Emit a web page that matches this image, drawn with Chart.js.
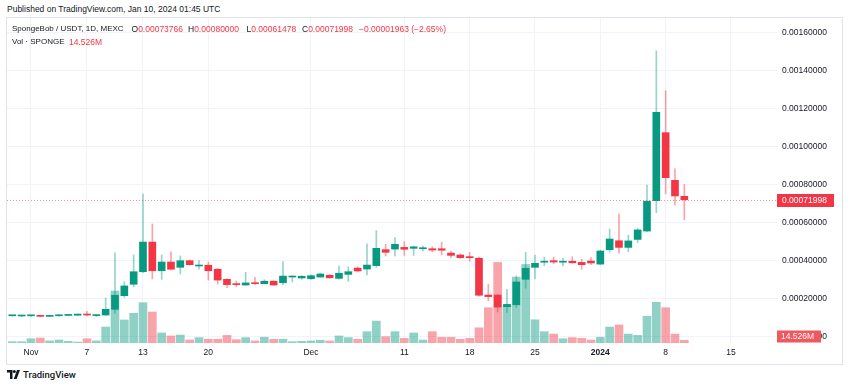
<!DOCTYPE html>
<html><head><meta charset="utf-8">
<script src="https://cdn.jsdelivr.net/npm/chart.js@4.4.1/dist/chart.umd.min.js"></script>
<style>
html,body{margin:0;padding:0;background:#fff;width:850px;height:386px;overflow:hidden;font-family:"Liberation Sans",Arial,sans-serif;color:#131722;}
#pub{position:absolute;left:7px;top:3px;font-size:8.5px;line-height:12px;white-space:nowrap;}
#frame{position:absolute;left:6px;top:17px;width:837px;height:348px;border:1px solid #e0e3eb;box-sizing:border-box;}
#wrap{position:absolute;left:7px;top:18px;width:835px;height:346px;}
.lg{position:absolute;font-size:8.5px;line-height:12px;white-space:nowrap;}
.nm{font-size:8px;}
.r{color:#f23645;}
#logo{position:absolute;left:7px;top:368px;height:12px;display:flex;align-items:center;}
#logo span{font-family:Roboto,"Liberation Sans",sans-serif;font-weight:500;font-size:9.5px;color:#131722;margin-left:3px;}
</style>
</head><body>
<div id="pub">Published on TradingView.com, Jan 10, 2024 01:45 UTC</div>
<div id="frame"></div>
<div id="wrap"><canvas id="c" width="835" height="346"></canvas></div>
<div class="lg nm" style="left:12px;top:23px">SpongeBob / USDT, 1D, MEXC</div>
<div class="lg" style="left:131.5px;top:23px">O<span class="r" id="vO"></span></div>
<div class="lg" style="left:188px;top:23px">H<span class="r" id="vH"></span></div>
<div class="lg" style="left:246.5px;top:23px">L<span class="r" id="vL"></span></div>
<div class="lg" style="left:302px;top:23px">C<span class="r" id="vC"></span></div>
<div class="lg r" style="left:359px;top:23px" id="vChg"></div>
<div class="lg nm" style="left:12px;top:35.5px">Vol · SPONGE</div>
<div class="lg r" style="left:69px;top:35.5px" id="vVol"></div>
<div id="logo"><svg width="13" height="9" viewBox="0 0 13 9"><path d="M0 0h5.5v9H3V2.4H0z" fill="#131722"/><circle cx="7.3" cy="1.6" r="1.5" fill="#131722"/><path d="M10 0h3L9.6 9H6.8z" fill="#131722"/></svg><span>TradingView</span></div>
<script>
const dates = [
 "2023-10-30","2023-10-31",
 "2023-11-01","2023-11-02","2023-11-03","2023-11-04","2023-11-05","2023-11-06","2023-11-07","2023-11-08","2023-11-09","2023-11-10",
 "2023-11-11","2023-11-12","2023-11-13","2023-11-14","2023-11-15","2023-11-16","2023-11-17","2023-11-18","2023-11-19","2023-11-20",
 "2023-11-21","2023-11-22","2023-11-23","2023-11-24","2023-11-25","2023-11-26","2023-11-27","2023-11-28","2023-11-29","2023-11-30",
 "2023-12-01","2023-12-02","2023-12-03","2023-12-04","2023-12-05","2023-12-06","2023-12-07","2023-12-08","2023-12-09","2023-12-10",
 "2023-12-11","2023-12-12","2023-12-13","2023-12-14","2023-12-15","2023-12-16","2023-12-17","2023-12-18","2023-12-19","2023-12-20",
 "2023-12-21","2023-12-22","2023-12-23","2023-12-24","2023-12-25","2023-12-26","2023-12-27","2023-12-28","2023-12-29","2023-12-30","2023-12-31",
 "2024-01-01","2024-01-02","2024-01-03","2024-01-04","2024-01-05","2024-01-06","2024-01-07","2024-01-08","2024-01-09","2024-01-10"
];
const opens = [
 0.000109,0.000108,
 0.000109,0.000110,0.000106,0.000109,0.000111,0.000112,0.000117,0.000110,0.000113,0.000143,
 0.000215,0.000275,0.000341,0.000497,0.000346,0.000392,0.000364,0.000399,0.000371,0.000375,
 0.000354,0.000301,0.000276,0.000271,0.000282,0.000278,0.000291,0.000283,0.000313,0.000308,
 0.000304,0.000313,0.000322,0.000306,0.000327,0.000360,0.000355,0.000373,0.000457,0.000460,
 0.000469,0.000464,0.000462,0.000462,0.000462,0.000439,0.000429,0.000418,0.000412,0.000218,
 0.000218,0.000157,0.000167,0.000301,0.000364,0.000391,0.000399,0.000391,0.000396,0.000390,0.000397,
 0.000381,0.000457,0.000504,0.000469,0.000511,0.000555,0.000715,0.001073,0.000822,0.00073766
];
const highs = [
 0.000113,0.000112,
 0.000111,0.000111,0.000111,0.000113,0.000116,0.000119,0.000132,0.000114,0.000203,0.000441,
 0.000288,0.000429,0.000750,0.000592,0.000429,0.000446,0.000424,0.000403,0.000399,0.000392,
 0.000359,0.000304,0.000292,0.000338,0.000311,0.000299,0.000294,0.000394,0.000320,0.000320,
 0.000325,0.000334,0.000327,0.000371,0.000367,0.000367,0.000488,0.000557,0.000485,0.000520,
 0.000499,0.000476,0.000476,0.000473,0.000496,0.000450,0.000434,0.000443,0.000418,0.000275,
 0.000222,0.000248,0.000318,0.000443,0.000429,0.000418,0.000418,0.000412,0.000420,0.000406,0.000415,
 0.000455,0.000566,0.000645,0.000533,0.000569,0.000797,0.001503,0.001294,0.000882,0.00080000
];
const lows = [
 0.000107,0.000105,
 0.000106,0.000104,0.000104,0.000107,0.000109,0.000110,0.000108,0.000104,0.000110,0.000122,
 0.000206,0.000262,0.000336,0.000304,0.000301,0.000350,0.000329,0.000376,0.000354,0.000297,
 0.000276,0.000257,0.000262,0.000269,0.000273,0.000276,0.000269,0.000271,0.000288,0.000301,
 0.000301,0.000311,0.000306,0.000302,0.000290,0.000340,0.000324,0.000364,0.000424,0.000424,
 0.000427,0.000427,0.000450,0.000446,0.000429,0.000413,0.000410,0.000397,0.000212,0.000188,
 0.000129,0.000127,0.000152,0.000254,0.000303,0.000373,0.000383,0.000371,0.000385,0.000354,0.000378,
 0.000378,0.000443,0.000438,0.000446,0.000494,0.000552,0.000652,0.000750,0.000692,0.00061478
];
const closes = [
 0.000112,0.000111,
 0.000110,0.000106,0.000109,0.000112,0.000115,0.000118,0.000113,0.000113,0.000143,0.000217,
 0.000266,0.000341,0.000497,0.000346,0.000392,0.000354,0.000399,0.000378,0.000376,0.000346,
 0.000297,0.000273,0.000273,0.000282,0.000278,0.000291,0.000271,0.000318,0.000318,0.000317,
 0.000320,0.000329,0.000309,0.000333,0.000341,0.000345,0.000376,0.000464,0.000443,0.000485,
 0.000459,0.000472,0.000467,0.000455,0.000454,0.000427,0.000415,0.000415,0.000217,0.000210,
 0.000155,0.000169,0.000287,0.000359,0.000385,0.000396,0.000392,0.000394,0.000388,0.000378,0.000387,
 0.000450,0.000513,0.000469,0.000503,0.000561,0.000712,0.001180,0.000836,0.00073961,0.00071998
];
// volume in millions
const volumes = [
 7,7,
 23,27,11,16,9,5,23,11,86,280,
 124,160,217,167,54,38,43,16,29,20,
 20,41,18,29,11,31,20,20,7,9,
 11,15,11,38,29,20,61,118,34,61,
 25,54,16,61,31,31,20,25,82,190,
 434,201,355,423,125,61,48,23,29,25,16,
 31,86,97,48,41,144,219,190,48,14.526
];
const tickDates = ["2023-11-01","2023-11-07","2023-11-13","2023-11-20","2023-12-01","2023-12-11","2023-12-18","2023-12-25","2024-01-01","2024-01-08","2024-01-15"];
const tickLabels = ["Nov","7","13","20","Dec","11","18","25","2024","8","15"];
const priceTicks = [0,0.0002,0.0004,0.0006,0.0008,0.0010,0.0012,0.0014,0.0016];

const GREEN = '#089981', RED = '#f23645';
const day0 = Date.parse(dates[0]);
const dayIndex = d => Math.round((Date.parse(d) - day0) / 86400000);
const up = i => closes[i] >= opens[i];
const last = closes.length - 1;

document.getElementById('vO').textContent = opens[last].toFixed(8);
document.getElementById('vH').textContent = highs[last].toFixed(8);
document.getElementById('vL').textContent = lows[last].toFixed(8);
document.getElementById('vC').textContent = closes[last].toFixed(8);
const chg = closes[last] - closes[last-1];
const pct = chg / closes[last-1] * 100;
document.getElementById('vChg').textContent = (chg < 0 ? '\u2212' : '+') + Math.abs(chg).toFixed(8) + ' (' + (pct < 0 ? '\u2212' : '+') + Math.abs(pct).toFixed(2) + '%)';
document.getElementById('vVol').textContent = volumes[last].toFixed(3) + 'M';

const xs = dates.map(dayIndex);

const overlay = {
  id: 'overlay',
  afterDraw(chart) {
    const {ctx, chartArea, scales} = chart;
    const y = scales.y.getPixelForValue(closes[last]);
    ctx.save();
    ctx.strokeStyle = 'rgba(242,54,69,0.55)';
    ctx.lineWidth = 1;
    ctx.setLineDash([1, 2]);
    ctx.beginPath();
    ctx.moveTo(chartArea.left, Math.round(y) + 0.5);
    ctx.lineTo(chartArea.right, Math.round(y) + 0.5);
    ctx.stroke();
    ctx.setLineDash([]);
    ctx.font = '8.5px "Liberation Sans", Arial, sans-serif';
    ctx.textBaseline = 'middle';
    ctx.fillStyle = RED;
    ctx.fillRect(chartArea.right, Math.round(y) - 6, 57, 13);
    ctx.fillStyle = '#ffffff';
    ctx.fillText(closes[last].toFixed(8), chartArea.right + 5, Math.round(y) + 0.5);
    let vy = scales.yv.getPixelForValue(volumes[last]);
    vy = Math.min(vy, chartArea.bottom - 6.5);
    ctx.fillStyle = '#f0575f';
    ctx.fillRect(chartArea.right, vy - 6, 44, 12);
    ctx.fillStyle = '#ffffff';
    ctx.fillText(volumes[last].toFixed(3) + 'M', chartArea.right + 4, vy + 0.5);
    ctx.restore();
  }
};

new Chart(document.getElementById('c'), {
  type: 'bar',
  data: {
    datasets: [
      {
        label: 'Body',
        data: xs.map((x, i) => ({x, y: [opens[i], closes[i]]})),
        backgroundColor: ctx => up(ctx.dataIndex) ? GREEN : RED,
        barThickness: 7, minBarLength: 1, order: 1, yAxisID: 'y'
      },
      {
        label: 'Wick',
        data: xs.map((x, i) => ({x, y: [lows[i], highs[i]]})),
        backgroundColor: ctx => up(ctx.dataIndex) ? 'rgba(8,153,129,0.42)' : 'rgba(242,54,69,0.45)',
        barThickness: 1, order: 2, yAxisID: 'y'
      },
      {
        label: 'Volume',
        data: xs.map((x, i) => ({x, y: volumes[i]})),
        backgroundColor: ctx => up(ctx.dataIndex) ? 'rgba(8,153,129,0.45)' : 'rgba(242,54,69,0.45)',
        barThickness: 8, order: 3, yAxisID: 'yv'
      }
    ]
  },
  options: {
    responsive: false,
    animation: false,
    devicePixelRatio: 1,
    layout: {padding: 0},
    plugins: {legend: {display: false}, tooltip: {enabled: false}},
    datasets: {bar: {grouped: false, borderWidth: 0, borderSkipped: false}},
    scales: {
      x: {
        type: 'linear', offset: false,
        min: -0.57, max: 81.93,
        grid: {color: '#f0f3fa', drawTicks: false, offset: false},
        border: {display: false},
        afterBuildTicks: s => { s.ticks = tickDates.map(d => ({value: dayIndex(d)})); },
        afterFit: s => { s.height = 21; s.paddingLeft = 0; s.paddingRight = 0; },
        ticks: {
          autoSkip: false, maxRotation: 0, padding: 5, color: '#131722',
          font: c => ({family: '"Liberation Sans", Arial, sans-serif', size: 8.5, weight: (c.index === 8 ? 'bold' : 'normal')}),
          callback: (v, i) => tickLabels[i]
        }
      },
      y: {
        type: 'linear', position: 'right',
        min: -0.0000342, max: 0.0016763,
        grid: {color: '#f0f3fa', drawTicks: false},
        border: {display: false},
        afterBuildTicks: s => { s.ticks = priceTicks.map(v => ({value: v})); },
        afterFit: s => { s.width = 65; s.paddingTop = 0; s.paddingBottom = 0; },
        ticks: {
          padding: 5, color: '#131722',
          font: {family: '"Liberation Sans", Arial, sans-serif', size: 8.5},
          callback: v => Number(v).toFixed(8)
        }
      },
      yv: {
        type: 'linear', display: false, min: 0, max: 1750,
        grid: {display: false},
        afterFit: s => { s.paddingTop = 0; s.paddingBottom = 0; }
      }
    }
  },
  plugins: [overlay]
});
</script>
</body></html>
